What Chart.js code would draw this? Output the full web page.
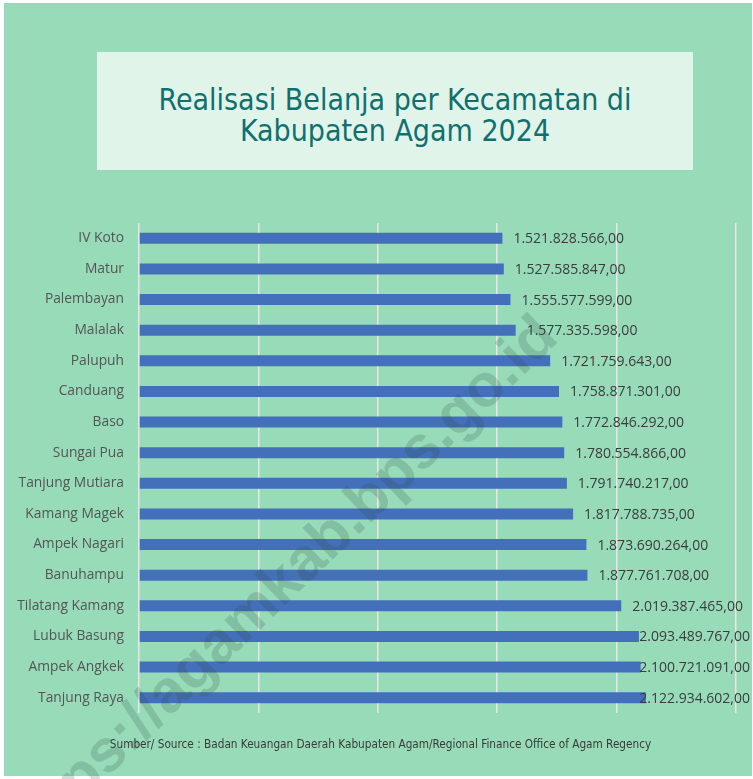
<!DOCTYPE html>
<html>
<head>
<meta charset="utf-8">
<script src="https://cdn.jsdelivr.net/npm/chart.js@4.4.1/dist/chart.umd.min.js"></script>
<style>
  body { margin: 0; background: #ffffff; }
  #wrap { position: relative; width: 753px; height: 779px; overflow: hidden; }
  #panel { position: absolute; left: 4px; top: 3px; width: 748px; height: 773px; background: #97dbb9; }
  #titleBox {
    position: absolute; left: 97px; top: 52px; width: 596px; height: 118px;
    background: #e0f4ea; color: #10706e; text-align: center;
    font-family: "DejaVu Sans Condensed", "DejaVu Sans", sans-serif; font-size: 30px; line-height: 31px;
    box-sizing: border-box; padding-top: 32px;
  }
  #source {
    position: absolute; left: 0; width: 753px; top: 737px; text-align: center;
    font-family: "DejaVu Sans Condensed", "DejaVu Sans", sans-serif; font-size: 11.7px; color: #3a3a3a;
    padding-left: 8px; box-sizing: border-box;
  }
  #chartBox { position: absolute; left: 0; top: 0; width: 753px; height: 779px; }
</style>
</head>
<body>
<div id="wrap">
  <div id="panel"></div>
  <div id="titleBox">Realisasi Belanja per Kecamatan di<br>Kabupaten Agam 2024</div>
  <div id="chartBox"><canvas id="belanjaChart"></canvas></div>
  <div id="source">Sumber/ Source : Badan Keuangan Daerah Kabupaten Agam/Regional Finance Office of Agam Regency</div>
</div>
<script>
// data kecamatan
const kecamatan = [
  'IV Koto', 'Matur', 'Palembayan', 'Malalak', 'Palupuh', 'Canduang', 'Baso', 'Sungai Pua',
  'Tanjung Mutiara', 'Kamang Magek', 'Ampek Nagari', 'Banuhampu', 'Tilatang Kamang',
  'Lubuk Basung', 'Ampek Angkek', 'Tanjung Raya'
];
const realisasi = [
  1521828566.00, 1527585847.00, 1555577599.00, 1577335598.00, 1721759643.00, 1758871301.00,
  1772846292.00, 1780554866.00, 1791740217.00, 1817788735.00, 1873690264.00, 1877761708.00,
  2019387465.00, 2093489767.00, 2100721091.00, 2122934602.00
];
const xTicks = [0, 500000000, 1000000000, 1500000000, 2000000000, 2500000000];

function formatRupiah(v) {
  const parts = v.toFixed(2).split('.');
  const ribuan = parts[0].replace(/\B(?=(\d{3})+(?!\d))/g, '.');
  return ribuan + ',' + parts[1];
}

// label nilai di ujung batang
const valueLabels = {
  id: 'valueLabels',
  afterDatasetsDraw(chart) {
    const ctx = chart.ctx;
    const meta = chart.getDatasetMeta(0);
    ctx.save();
    ctx.font = '14px "Open Sans", sans-serif';
    ctx.fillStyle = '#3c3c3c';
    ctx.textBaseline = 'middle';
    ctx.textAlign = 'left';
    meta.data.forEach(function(bar, i) {
      const text = formatRupiah(realisasi[i]);
      const w = ctx.measureText(text).width;
      let x = bar.x + 11;
      if (x + w > 750) x = 750 - w;
      ctx.fillText(text, x, bar.y + 1);
    });
    ctx.restore();
  },
  afterDraw(chart) {
    // watermark
    const ctx = chart.ctx;
    ctx.save();
    ctx.translate(560, 340);
    ctx.rotate(-44 * Math.PI / 180);
    ctx.font = 'bold 60px "Liberation Sans", sans-serif';
    ctx.fillStyle = 'rgba(40, 70, 60, 0.19)';
    ctx.textAlign = 'right';
    ctx.textBaseline = 'alphabetic';
    ctx.fillText('https://agamkab.bps.go.id', 0, 0);
    ctx.restore();
  }
};

new Chart(document.getElementById('belanjaChart'), {
  type: 'bar',
  data: {
    labels: kecamatan,
    datasets: [{
      data: realisasi,
      backgroundColor: '#4470bb',
      barPercentage: 0.72,
      categoryPercentage: 0.5
    }]
  },
  options: {
    indexAxis: 'y',
    responsive: true,
    maintainAspectRatio: false,
    animation: false,
    layout: { padding: { top: 223, bottom: 66, left: 0, right: 17 } },
    plugins: { legend: { display: false }, tooltip: { enabled: false } },
    scales: {
      x: {
        min: 0,
        max: 2500000000,
        afterBuildTicks: function(scale) { scale.ticks = xTicks.map(v => ({ value: v })); },
        afterFit: function(scale) { scale.height = 0; },
        ticks: { display: false },
        grid: { color: 'rgba(242, 228, 232, 0.95)', lineWidth: 1.5, drawTicks: false },
        border: { display: false }
      },
      y: {
        afterFit: function(scale) { scale.width = 139; },
        ticks: {
          padding: 15,
          color: '#555555',
          font: { family: '"Open Sans", sans-serif', size: 13.8 }
        },
        grid: { display: false, drawTicks: false },
        border: { display: false }
      }
    }
  },
  plugins: [valueLabels]
});
</script>
</body>
</html>
